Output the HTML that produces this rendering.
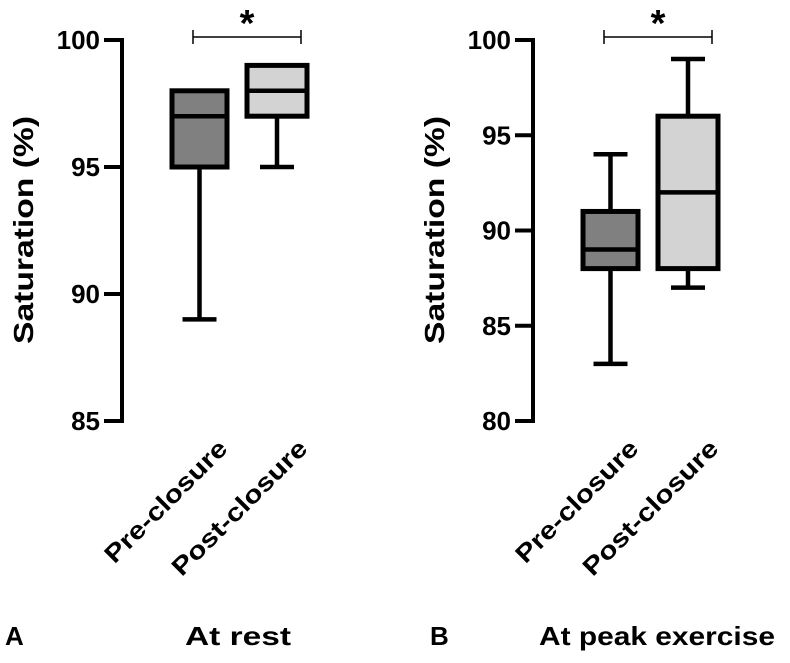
<!DOCTYPE html>
<html><head><meta charset="utf-8"><style>
body{margin:0;background:#fff;width:790px;height:658px;overflow:hidden}
svg{font-family:"Liberation Sans",Arial,sans-serif;font-weight:bold}
</style></head><body>
<svg id="c" width="790" height="658"></svg>
<script>
const categories=["Pre-closure","Post-closure"];
const restMin=[89,95],restQ1=[95,97],restMed=[97,98],restQ3=[98,99],restMax=[98,99];
const peakMin=[83,87],peakQ1=[88,88],peakMed=[89,92],peakQ3=[91,96],peakMax=[94,99];
const restTicks=[85,90,95,100],peakTicks=[80,85,90,95,100];
const NS="http://www.w3.org/2000/svg",svg=document.getElementById('c');
function el(t,a,p,txt){const e=document.createElementNS(NS,t);for(const k in a)e.setAttribute(k,a[k]);if(txt!==undefined)e.textContent=txt;(p||svg).appendChild(e);return e;}
function panel(o){
 const g=el('g',{});
 
 
 const y=v=>421-(v-o.lo)/(o.hi-o.lo)*381;
 const ax=el('line',{x1:o.ax,x2:o.ax,y1:38,y2:423,stroke:'#000','stroke-width':4},g);
 
 o.ticks.forEach(t=>{
  const l=el('line',{x1:o.ax-18,x2:o.ax,y1:y(t),y2:y(t),stroke:'#000','stroke-width':4},g);
  
  const tx=el('text',{x:o.ax-22,y:y(t)+9,'text-anchor':'end','font-size':26},g,String(t));
  
 });
 const yl=el('text',{transform:`translate(${o.ax-89},230) rotate(-90)`,'text-anchor':'middle','font-size':28,textLength:228,lengthAdjust:'spacingAndGlyphs'},g,'Saturation (%)');
 
 categories.forEach((c,i)=>{
  const x0=o.ax+50+i*75,w=i?60:55,cx=x0+w/2;
  const bx=el('g',{},g);
  
  el('line',{x1:cx,x2:cx,y1:y(o.min[i]),y2:y(o.max[i]),stroke:'#000','stroke-width':4.5},bx);
  el('line',{x1:cx-17,x2:cx+17,y1:y(o.min[i]),y2:y(o.min[i]),stroke:'#000','stroke-width':4.5},bx);
  el('line',{x1:cx-17,x2:cx+17,y1:y(o.max[i]),y2:y(o.max[i]),stroke:'#000','stroke-width':4.5},bx);
  el('rect',{x:x0,y:y(o.q3[i]),width:w,height:y(o.q1[i])-y(o.q3[i]),fill:i?'#d3d3d3':'#808080',stroke:'#000','stroke-width':5},bx);
  el('line',{x1:x0,x2:x0+w,y1:y(o.med[i]),y2:y(o.med[i]),stroke:'#000','stroke-width':4.5},bx);
  const lt=el('text',{transform:`translate(${x0+w+2},450) rotate(-45)`,'text-anchor':'end','font-size':25,textLength:i?180:162,lengthAdjust:'spacingAndGlyphs'},g,c);
  
 });
 const b1=o.ax+71,b2=o.ax+179;
 const br=el('path',{d:`M${b1},30V44M${b1},37H${b2}M${b2},30V44`,fill:'none',stroke:'#000','stroke-width':1.5},g);
 
 const st=el('text',{x:(b1+b2)/2,y:36,'text-anchor':'middle','font-size':38},g,'*');
 
 const pl=el('text',{x:o.lx,y:645,'font-size':26},g,o.letter);
 
 const tt=el('text',{x:o.tx,y:645,'text-anchor':'middle','font-size':26,textLength:o.tw,lengthAdjust:'spacingAndGlyphs'},g,o.title);
 
}
panel({name:'panel-at-rest',ax:122,lo:85,hi:100,ticks:restTicks,min:restMin,q1:restQ1,med:restMed,q3:restQ3,max:restMax,letter:'A',lx:5,title:'At rest',tx:238,tw:106});
panel({name:'panel-peak-exercise',ax:533,lo:80,hi:100,ticks:peakTicks,min:peakMin,q1:peakQ1,med:peakMed,q3:peakQ3,max:peakMax,letter:'B',lx:430,title:'At peak exercise',tx:657,tw:236});
</script>
</body></html>
